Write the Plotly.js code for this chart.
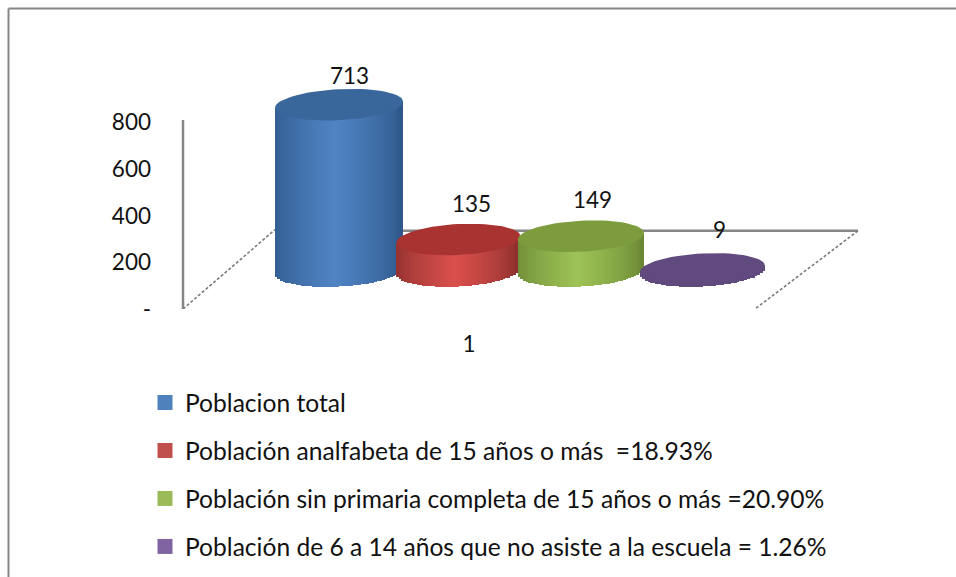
<!DOCTYPE html>
<html>
<head>
<meta charset="utf-8">
<script src="https://cdn.plot.ly/plotly-3.0.1.min.js"></script>
<style>html,body{margin:0;padding:0;background:#fff}#c{width:956px;height:577px}</style>
</head>
<body>
<div id="c"></div>
<script>
// ---- data ----
const seriesNames = [
  "Poblacion total",
  "Población analfabeta de 15 años o más  =18.93%",
  "Población sin primaria completa de 15 años o más =20.90%",
  "Población de 6 a 14 años que no asiste a la escuela = 1.26%"
];
const seriesValues = [713, 135, 149, 9];
const categoryLabels = ["1"];
const yTickVals = [0, 200, 400, 600, 800];
const yTickText = ["-", "200", "400", "600", "800"];
const legendColors = ["#4f81bd", "#c0504d", "#9bbb59", "#8064a2"];

// ---- look of the oblique 3D drawing ----
const centerX = [339, 458.5, 581, 702.5];
const radiusX = [64, 62, 63, 62.5];
const edgeRGB = [[46,88,138],[138,46,44],[106,135,52],[96,74,125]];
const midRGB  = [[80,132,196],[218,80,76],[158,195,86],[96,74,125]];
const capRGB  = ["#39679c","#a83331","#7d9c3e","#604a7e"];
const labelShift = [29, 36, 37, 39];
const labelDX = [10, 13, 11, 17];
const PX = 0.2333;         // pixels per value unit
const FLOOR = 38 / PX;     // floor of the box, in value units
const RY = 15.5 / PX;      // ellipse half height
const TILT = 0.05 / PX;    // ellipse tilt
const SLICES = 48;
const FONT = "Lato, Carlito, sans-serif";

function mix(a, b, t) { return a.map((v, i) => Math.round(v + (b[i] - v) * t)); }

const traces = [];
seriesValues.forEach((val, s) => {
  const cx = centerX[s], rx = radiusX[s];
  const w = 2 * rx / SLICES;
  const xs = [], bases = [], heights = [], cols = [];
  for (let i = 0; i < SLICES; i++) {
    const u = (i + 0.5) / SLICES * 2 - 1;
    const lower = FLOOR + TILT * u * rx - RY * Math.sqrt(1 - u * u);
    const top = FLOOR + val + TILT * u * rx;
    xs.push(cx + u * rx);
    bases.push(lower);
    heights.push(top - lower);
    const t = Math.pow(Math.max(0, 1 - Math.abs(u + 0.05)), 0.7);
    cols.push("rgb(" + mix(edgeRGB[s], midRGB[s], t).join(",") + ")");
  }
  traces.push({
    type: "bar", x: xs, y: heights, base: bases, width: w * 1.15,
    marker: { color: cols, line: { width: 0 } },
    showlegend: false, hoverinfo: "skip"
  });
});
seriesValues.forEach((val, s) => {
  const cx = centerX[s], rx = radiusX[s];
  const xs = [], ys = [];
  for (let a = 0; a <= 72; a++) {
    const th = a / 72 * 2 * Math.PI;
    const c = Math.cos(th);
    xs.push(cx + rx * c);
    ys.push(FLOOR + val + TILT * c * rx + RY * Math.sin(th));
  }
  traces.push({
    type: "scatter", mode: "lines", x: xs, y: ys, fill: "toself",
    fillcolor: capRGB[s], line: { width: 0, color: capRGB[s] },
    showlegend: false, hoverinfo: "skip"
  });
});
seriesNames.forEach((name, s) => {
  traces.push({
    type: "scatter", mode: "markers", x: [null], y: [null], name: name,
    legendgroup: "g" + s,
    marker: { symbol: "square", size: 15, color: legendColors[s] }
  });
});

const annotations = seriesValues.map((val, s) => ({
  x: centerX[s] + labelDX[s], y: FLOOR + val, yshift: labelShift[s],
  text: String(val), showarrow: false, xanchor: "center", yanchor: "middle",
  font: { family: FONT, size: 22.5, color: "#111" }
}));

const grey = "#868686";
const dashed = { color: "#7a7a7a", width: 1.6, dash: "3px,2px" };
const px2x = p => (p - 170) / 690;
const px2y = p => (309 - p) / 249;
const shapes = [
  { type: "line", xref: "paper", yref: "paper", x0: px2x(8.5), x1: px2x(956), y0: px2y(8.5), y1: px2y(8.5), line: { color: grey, width: 2 } },
  { type: "line", xref: "paper", yref: "paper", x0: px2x(8.5), x1: px2x(8.5), y0: px2y(8.5), y1: px2y(577), line: { color: grey, width: 2 } },
  { type: "line", xref: "x", yref: "y", x0: 183, x1: 183, y0: 0, y1: 810, line: { color: grey, width: 2.5 }, layer: "below" },
  { type: "line", xref: "x", yref: "y", x0: 183, x1: 275, y0: 0, y1: 340, line: dashed, layer: "below" },
  { type: "line", xref: "x", yref: "y", x0: 275, x1: 858, y0: 335, y1: 335, line: { color: grey, width: 2.5 }, layer: "below" },
  { type: "line", xref: "x", yref: "y", x0: 858, x1: 755, y0: 335, y1: 0, line: dashed, layer: "below" }
];

const layout = {
  width: 956, height: 577,
  margin: { l: 170, r: 96, t: 60, b: 268, pad: 0, autoexpand: false },
  paper_bgcolor: "#fff", plot_bgcolor: "rgba(0,0,0,0)",
  barmode: "overlay", bargap: 0,
  xaxis: {
    range: [170, 860], showgrid: false, zeroline: false, showline: false,
    tickmode: "array", tickvals: [469], ticktext: categoryLabels,
    ticks: "", ticklabelstandoff: 19,
    tickfont: { family: FONT, size: 22.5, color: "#111" }, fixedrange: true
  },
  yaxis: {
    range: [0, 249 / PX], showgrid: false, zeroline: false, showline: false,
    tickmode: "array", tickvals: yTickVals, ticktext: yTickText,
    ticks: "", ticklabelstandoff: 18,
    tickfont: { family: FONT, size: 22.5, color: "#111" }, fixedrange: true
  },
  legend: {
    x: px2x(145), y: px2y(380), xanchor: "left", yanchor: "top",
    bgcolor: "rgba(0,0,0,0)", tracegroupgap: 13, itemwidth: 30,
    font: { family: FONT, size: 24.6, color: "#111" }, traceorder: "grouped"
  },
  shapes: shapes, annotations: annotations, showlegend: true
};
Plotly.newPlot("c", traces, layout, { displayModeBar: false, staticPlot: true });
</script>
</body>
</html>
